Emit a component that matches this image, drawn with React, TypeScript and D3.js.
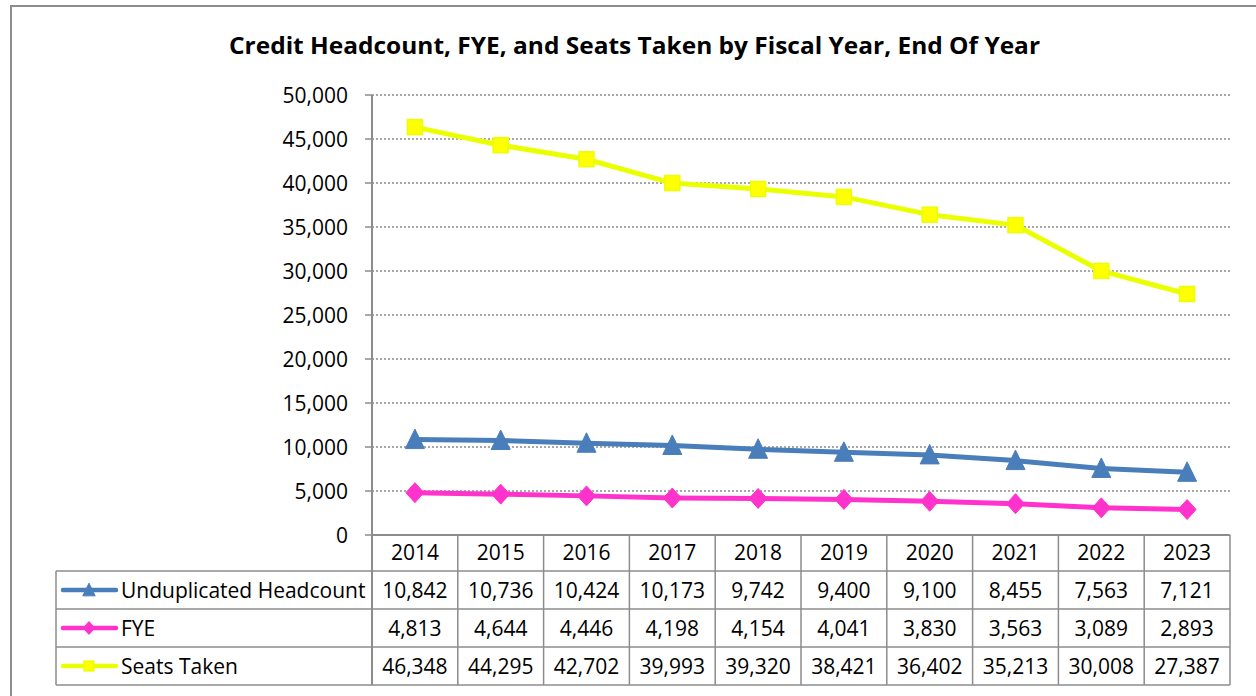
import React from "react";
import * as d3 from "d3";

const years = ["2014", "2015", "2016", "2017", "2018", "2019", "2020", "2021", "2022", "2023"];
const headcount = [10842, 10736, 10424, 10173, 9742, 9400, 9100, 8455, 7563, 7121];
const fye = [4813, 4644, 4446, 4198, 4154, 4041, 3830, 3563, 3089, 2893];
const seats = [46348, 44295, 42702, 39993, 39320, 38421, 36402, 35213, 30008, 27387];
const yTicks = [0, 5000, 10000, 15000, 20000, 25000, 30000, 35000, 40000, 45000, 50000];
const seriesNames = ["Unduplicated Headcount", "FYE", "Seats Taken"];

const FONT = "'Open Sans', sans-serif";

type Series = { name: string; values: number[]; color: string; marker: string; mfill: string; mstroke: string };

const series: Series[] = [
  { name: seriesNames[0], values: headcount, color: "#4A7EBB", marker: "triangle", mfill: "#4A7EBB", mstroke: "#4A7EBB" },
  { name: seriesNames[1], values: fye, color: "#FF33CC", marker: "diamond", mfill: "#FF33CC", mstroke: "#FF33CC" },
  { name: seriesNames[2], values: seats, color: "#EAFF00", marker: "square", mfill: "#FFFF00", mstroke: "#EAFF00" },
];

function Marker({ kind, x, y, fill, stroke, k }: { kind: string; x: number; y: number; fill: string; stroke: string; k: number }) {
  if (kind === "triangle") {
    const w = 9.5 * k, h = 10 * k;
    return <path d={`M${x},${y - h * 1.05} L${x + w},${y + h * 0.9} L${x - w},${y + h * 0.9} Z`} fill={fill} stroke={stroke} strokeWidth={1} strokeLinejoin="round" />;
  }
  if (kind === "diamond") {
    const w = 9 * k, h = 10 * k;
    return <path d={`M${x},${y - h} L${x + w},${y} L${x},${y + h} L${x - w},${y} Z`} fill={fill} stroke={stroke} strokeWidth={1} strokeLinejoin="round" />;
  }
  const s = 7.5 * k;
  return <rect x={x - s} y={y - s} width={2 * s} height={2 * s} fill={fill} stroke={stroke} strokeWidth={1.5} />;
}

export default function App() {
  const W = 1256, H = 696;
  const left = 372, right = 1230, top = 95, bottom = 535;
  const x = d3.scaleBand().domain(years).range([left, right]);
  const y = d3.scaleLinear().domain([0, 50000]).range([bottom, top]);
  const fmt = d3.format(",");
  const line = d3.line<number>().x((_, i) => (x(years[i]) as number) + x.bandwidth() / 2).y((d) => y(d));

  const tableLeft = 56;
  const rowH = 38;
  const headerBottom = 571;
  const rowTops = [571, 609, 647];
  const tableBottom = 685;
  const gray = "#8C8C8C";
  const fs = 21;

  return (
    <svg width={W} height={H} style={{ position: "absolute", left: 0, top: 0, fontFamily: FONT }}>
      <rect x={0} y={0} width={W} height={H} fill="#fff" />
      <rect x={11} y={6} width={W + 10} height={H + 10} fill="none" stroke={gray} strokeWidth={2} />
      <text x={634.5} y={54} textAnchor="middle" fontSize={23} fontWeight="bold" fill="#000" textLength={811} lengthAdjust="spacingAndGlyphs">
        Credit Headcount, FYE, and Seats Taken by Fiscal Year, End Of Year
      </text>
      {yTicks.map((t) => (
        <g key={t}>
          {t > 0 && (
            <line x1={left} x2={right} y1={y(t)} y2={y(t)} stroke={gray} strokeWidth={1.5} strokeDasharray="2,2" />
          )}
          <line x1={left - 7} x2={left} y1={y(t)} y2={y(t)} stroke={gray} strokeWidth={1.5} />
          <text x={348} y={y(t) + 7.5} textAnchor="end" fontSize={fs} fill="#000">
            {fmt(t)}
          </text>
        </g>
      ))}
      <line x1={left} x2={left} y1={top} y2={tableBottom} stroke={gray} strokeWidth={2} />
      <line x1={left} x2={right} y1={bottom} y2={bottom} stroke={gray} strokeWidth={2} />
      {years.map((yr) => {
        const x0 = x(yr) as number;
        return <line key={yr} x1={x0 + x.bandwidth()} x2={x0 + x.bandwidth()} y1={bottom} y2={tableBottom} stroke={gray} strokeWidth={1.5} />;
      })}
      <line x1={tableLeft} x2={right} y1={headerBottom} y2={headerBottom} stroke={gray} strokeWidth={1.5} />
      {rowTops.map((rt, i) => (
        <line key={i} x1={tableLeft} x2={right} y1={rt + rowH} y2={rt + rowH} stroke={gray} strokeWidth={1.5} />
      ))}
      <line x1={tableLeft} x2={tableLeft} y1={headerBottom} y2={tableBottom} stroke={gray} strokeWidth={1.5} />
      {years.map((yr) => (
        <text key={yr} x={(x(yr) as number) + x.bandwidth() / 2} y={bottom + 25} textAnchor="middle" fontSize={fs} fill="#000">
          {yr}
        </text>
      ))}
      {series.map((s, si) => (
        <g key={s.name}>
          <line x1={63} x2={116} y1={rowTops[si] + rowH / 2} y2={rowTops[si] + rowH / 2} stroke={s.color} strokeWidth={4.5} strokeLinecap="round" />
          <Marker kind={s.marker} x={89} y={rowTops[si] + rowH / 2} fill={s.mfill} stroke={s.mstroke} k={0.65} />
          <text x={121} y={rowTops[si] + rowH / 2 + 7.5} fontSize={fs} fill="#000">
            {s.name}
          </text>
          {s.values.map((v, i) => (
            <text key={i} x={(x(years[i]) as number) + x.bandwidth() / 2} y={rowTops[si] + rowH / 2 + 7.5} textAnchor="middle" fontSize={fs} fill="#000">
              {fmt(v)}
            </text>
          ))}
        </g>
      ))}
      {series.map((s) => (
        <g key={s.name + "l"}>
          <path d={line(s.values) || ""} fill="none" stroke={s.color} strokeWidth={5} strokeLinejoin="round" />
          {s.values.map((v, i) => (
            <Marker key={i} kind={s.marker} x={(x(years[i]) as number) + x.bandwidth() / 2} y={y(v)} fill={s.mfill} stroke={s.mstroke} k={1} />
          ))}
        </g>
      ))}
    </svg>
  );
}
